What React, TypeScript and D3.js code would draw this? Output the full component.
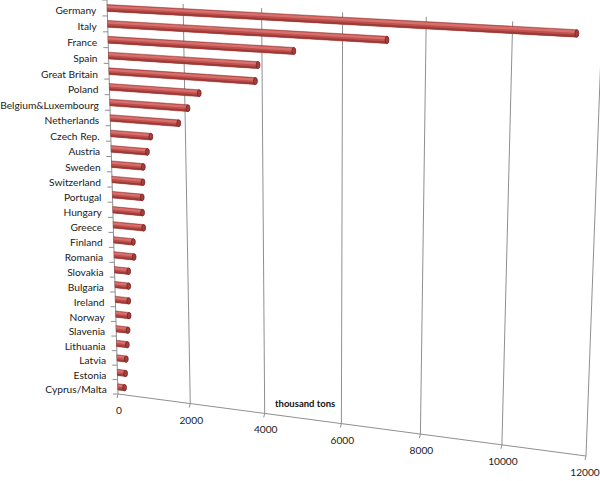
import React from 'react';
import * as d3 from 'd3';

const countries = [
  'Germany', 'Italy', 'France', 'Spain', 'Great Britain', 'Poland',
  'Belgium&Luxembourg', 'Netherlands', 'Czech Rep.', 'Austria', 'Sweden',
  'Switzerland', 'Portugal', 'Hungary', 'Greece', 'Finland', 'Romania',
  'Slovakia', 'Bulgaria', 'Ireland', 'Norway', 'Slavenia', 'Lithuania',
  'Latvia', 'Estonia', 'Cyprus/Malta',
];
const values = [
  11450, 7075, 4800, 3900, 3830, 2380, 2080, 1830, 1080, 980, 860, 840, 810,
  810, 830, 540, 550, 390, 380, 370, 370, 330, 300, 260, 230, 190,
];
const valueTicks = [0, 2000, 4000, 6000, 8000, 10000, 12000];
const axisTitle = 'thousand tons';

// corners of the (perspective) back wall on screen
const wall = {
  tl: [107, 0],
  tr: [602, 26],
  br: [586, 456],
  bl: [118, 394],
};

// square -> quad homography (Heckbert)
function makeProjection(q: typeof wall) {
  const [x0, y0] = q.tl, [x1, y1] = q.tr, [x2, y2] = q.br, [x3, y3] = q.bl;
  const dx1 = x1 - x2, dx2 = x3 - x2, dx3 = x0 - x1 + x2 - x3;
  const dy1 = y1 - y2, dy2 = y3 - y2, dy3 = y0 - y1 + y2 - y3;
  const den = dx1 * dy2 - dx2 * dy1;
  const g = (dx3 * dy2 - dx2 * dy3) / den;
  const h = (dx1 * dy3 - dx3 * dy1) / den;
  const a = x1 - x0 + g * x1, b = x3 - x0 + h * x3, c = x0;
  const d = y1 - y0 + g * y1, e = y3 - y0 + h * y3, f = y0;
  return (u: number, v: number): [number, number] => {
    const w = g * u + h * v + 1;
    return [(a * u + b * v + c) / w, (d * u + e * v + f) / w];
  };
}

const P = makeProjection(wall);

const x = d3.scaleLinear().domain([0, 12000]).range([0, 1]);
const y = d3.scaleBand<string>()
  .domain(countries)
  .range([0, 1])
  .paddingInner(0.57)
  .paddingOuter(0.285);

const poly = (pts: [number, number][]) =>
  'M' + pts.map(p => p.map(n => n.toFixed(2)).join(',')).join('L') + 'Z';

const font = 'Lato, "Open Sans", sans-serif';
const gridColor = '#8f8f8f';

function Bar({ name, value }: { name: string; value: number }) {
  const v0 = y(name) as number;
  const bw = y.bandwidth();
  const v1 = v0 + bw;
  const u = x(value);
  const strip = (a: number, b: number) =>
    poly([P(0, v0 + a * bw), P(u, v0 + a * bw), P(u, v0 + b * bw), P(0, v0 + b * bw)]);
  const [ex, ey] = P(u, v0 + bw / 2);
  const [, eyTop] = P(u, v0);
  const [, eyBot] = P(u, v1);
  const ry = (eyBot - eyTop) / 2;
  return (
    <g>
      <path d={strip(0, 1)} fill="#c0504d" stroke="#8e3331" strokeWidth={0.5} />
      <path d={strip(0.12, 0.45)} fill="#d8716d" />
      <path d={strip(0.72, 1)} fill="#9c3a37" />
      <ellipse cx={ex} cy={ey} rx={1.9} ry={ry} fill="#a63f3c" stroke="#6e2321" strokeWidth={0.8} />
    </g>
  );
}

export default function App() {
  const step = y.step();
  const boundaries = d3.range(countries.length + 1).map(i => i * step);

  return (
    <svg
      width={600}
      height={481}
      style={{ position: 'absolute', left: 0, top: 0, display: 'block', background: '#fff' }}
    >
      {/* vertical gridlines on the back wall */}
      {valueTicks.slice(1).map(t => {
        const [ax, ay] = P(x(t), 0);
        const [bx, by] = P(x(t), 1);
        return <line key={t} x1={ax} y1={ay} x2={bx} y2={by} stroke={gridColor} strokeWidth={1} />;
      })}

      {/* category axis */}
      {(() => {
        const [ax, ay] = P(0, 0);
        const [bx, by] = P(0, 1);
        return <line x1={ax} y1={ay} x2={bx} y2={by} stroke={gridColor} strokeWidth={1} />;
      })()}
      {boundaries.map((v, i) => {
        const [px, py] = P(0, v);
        return <line key={i} x1={px - 5} y1={py} x2={px} y2={py} stroke={gridColor} strokeWidth={1} />;
      })}

      {/* value axis */}
      {(() => {
        const [ax, ay] = P(0, 1);
        const [bx, by] = P(1, 1);
        return <line x1={ax} y1={ay} x2={bx} y2={by} stroke={gridColor} strokeWidth={1} />;
      })()}
      {valueTicks.map(t => {
        const [px, py] = P(x(t), 1);
        return (
          <g key={t}>
            <line x1={px} y1={py} x2={px - 1} y2={py + 4} stroke={gridColor} strokeWidth={1} />
            <text
              x={Math.min(px + 1, 585)}
              y={py + 20}
              textAnchor="middle"
              fontFamily={font}
              fontSize={10.2}
              fill="#222"
            >
              {t}
            </text>
          </g>
        );
      })}

      {/* bars */}
      {countries.map((c, i) => (
        <Bar key={c} name={c} value={values[i]} />
      ))}

      {/* category labels */}
      {countries.map(c => {
        const [px, py] = P(0, (y(c) as number) + y.bandwidth() / 2);
        return (
          <text
            key={c}
            x={px - 11}
            y={py + 6.5}
            textAnchor="end"
            fontFamily={font}
            fontSize={10.2}
            fill="#1a1a1a"
          >
            {c}
          </text>
        );
      })}

      <text x={275} y={407} fontFamily={font} fontSize={9.5} fontWeight="bold" fill="#111">
        {axisTitle}
      </text>
    </svg>
  );
}
